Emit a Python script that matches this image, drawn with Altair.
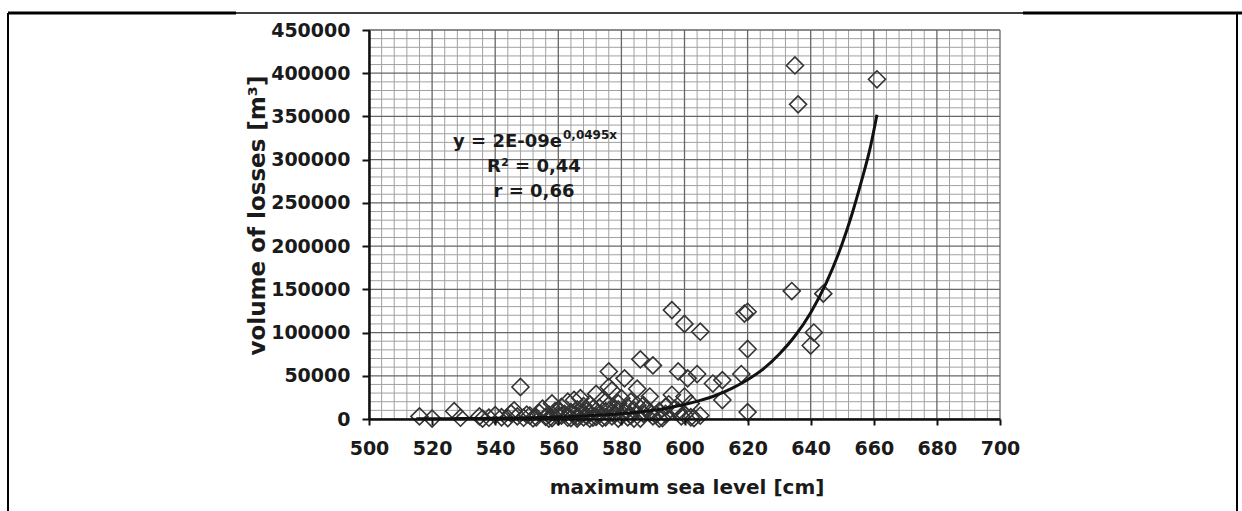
import altair as alt
import pandas as pd

# ---- data ----
x_level = [516, 520, 527, 529, 535, 536, 538, 540, 542, 544, 545, 546, 547, 548, 549, 550,
           551, 552, 553, 554, 555, 556, 557, 557, 558, 558, 559, 560, 560, 561, 561, 562,
           563, 563, 564, 564, 565, 565, 566, 566, 566, 567, 567, 568, 568, 568, 569, 569,
           570, 570, 570, 571, 571, 572, 572, 573, 573, 574, 574, 575, 575, 576, 576, 576,
           577, 577, 577, 578, 578, 579, 579, 579, 580, 580, 581, 581, 582, 582, 583, 583,
           584, 584, 585, 585, 586, 586, 587, 587, 588, 589, 589, 590, 590, 591, 592, 592,
           593, 594, 594, 595, 596, 596, 597, 598, 598, 599, 600, 600, 600, 601, 602, 602,
           603, 604, 605, 605, 609, 612, 612, 618, 619, 620, 620, 620, 634, 635, 636, 640,
           641, 644, 661]
y_loss = [3000, 500, 9000, 1500, 3000, 500, 1500, 4500, 2000, 1000, 6500, 10000, 3000, 37000, 1500, 5000,
          4000, 800, 2000, 7000, 12000, 2500, 5000, 500, 18000, 1000, 9000, 3000, 10000, 14000, 4000, 6000,
          20000, 1500, 8000, 1000, 4000, 22000, 500, 11000, 3000, 6000, 24000, 2000, 15000, 7000, 9000, 3500,
          500, 7000, 17000, 12000, 1500, 29000, 2500, 5000, 13000, 22000, 1000, 9000, 2000, 16000, 37000, 55000,
          3000, 33000, 8000, 6000, 12000, 18000, 500, 11000, 24000, 3500, 47000, 8000, 14000, 2000, 4000, 20000,
          10000, 500, 35000, 16000, 69000, 500, 6000, 16000, 12000, 26000, 7000, 62000, 3000, 5000, 9000, 500,
          1000, 14000, 6000, 17000, 28000, 126000, 12000, 55000, 9000, 3000, 110000, 26000, 5000, 47000, 18000, 2000,
          1000, 52000, 101000, 4000, 41000, 45000, 22000, 52000, 122000, 124000, 81000, 8000, 148000, 409000, 364000, 85000,
          100000, 145000, 393000]

# trend line as drawn in the picture
trend_x = [515, 525, 535, 545, 555, 565, 575, 585, 590, 595, 600, 605, 610, 615, 620,
           625, 630, 635, 640, 645, 650, 653, 656, 659, 661]
trend_y = [200, 400, 700, 1100, 1800, 3000, 4800, 7800, 10000, 13000, 16700, 21500, 27500, 35500, 45500,
           58000, 75000, 96000, 123000, 158000, 203000, 236000, 274000, 316000, 352000]

x_ticks = list(range(500, 701, 20))
y_ticks = list(range(0, 450001, 50000))
x_minor = [v for v in range(500, 701, 4) if v % 20 != 0]
y_minor = [v for v in range(0, 450001, 10000) if v % 50000 != 0]

eq_main = "y = 2E-09e"
eq_exp = "0,0495x"
eq_r2 = "R² = 0,44"
eq_r = "r = 0,66"

x_title = "maximum sea level [cm]"
y_title = "volume of losses [m³]"

FONT = "DejaVu Sans"
W, H = 631, 389

pts = pd.DataFrame({"x": x_level, "y": y_loss})
trend = pd.DataFrame({"x": trend_x, "y": trend_y})

xscale = alt.Scale(domain=[500, 700], zero=False, nice=False)
yscale = alt.Scale(domain=[0, 450000], nice=False)

x_axis = alt.Axis(values=x_ticks, title=x_title, grid=False, format="d",
                  domainColor="#111", domainWidth=2.5, tickColor="#111", tickWidth=2, tickSize=6,
                  labelFont=FONT, labelFontWeight="bold", labelFontSize=19, labelColor="#1a1a1a",
                  labelPadding=14, labelFlush=False, labelOverlap=False,
                  titleFont=FONT, titleFontWeight="bold", titleFontSize=20, titleColor="#1a1a1a",
                  titleX=W / 2 + 2, titleY=68, titleBaseline="middle", titleAlign="center", zindex=2)
y_axis = alt.Axis(values=y_ticks, title=y_title, grid=False, format="d",
                  domainColor="#111", domainWidth=2.5, tickColor="#111", tickWidth=2, tickSize=7,
                  labelFont=FONT, labelFontWeight="bold", labelFontSize=19, labelColor="#1a1a1a",
                  labelPadding=12, labelFlush=False, labelOverlap=False,
                  titleFont=FONT, titleFontWeight="bold", titleFontSize=23, titleColor="#1a1a1a",
                  titleX=-112, titleY=185, titleAngle=270, titleBaseline="middle", titleAlign="center",
                  zindex=2)

vminor = alt.Chart(pd.DataFrame({"x": x_minor})).mark_rule(color="#a0a0a0", strokeWidth=1).encode(
    x=alt.X("x:Q", scale=xscale, axis=x_axis))
hminor = alt.Chart(pd.DataFrame({"y": y_minor})).mark_rule(color="#a0a0a0", strokeWidth=1).encode(
    y=alt.Y("y:Q", scale=yscale, axis=y_axis))
vmajor = alt.Chart(pd.DataFrame({"x": x_ticks})).mark_rule(color="#666666", strokeWidth=1.3).encode(
    x=alt.X("x:Q", scale=xscale, axis=x_axis))
hmajor = alt.Chart(pd.DataFrame({"y": y_ticks})).mark_rule(color="#666666", strokeWidth=1.3).encode(
    y=alt.Y("y:Q", scale=yscale, axis=y_axis))

points = alt.Chart(pts).mark_point(shape="diamond", filled=False, size=290,
                                   stroke="#333333", strokeWidth=1.6, opacity=1).encode(
    x=alt.X("x:Q", scale=xscale, axis=x_axis),
    y=alt.Y("y:Q", scale=yscale, axis=y_axis))

curve = alt.Chart(trend).mark_line(color="#111111", strokeWidth=3, interpolate="monotone").encode(
    x=alt.X("x:Q", scale=xscale, axis=x_axis),
    y=alt.Y("y:Q", scale=yscale, axis=y_axis))

def label(txt, x, y, size, align):
    return alt.Chart(pd.DataFrame({"t": [txt]})).mark_text(
        font=FONT, fontWeight="bold", fontSize=size, color="#1a1a1a",
        align=align, baseline="middle").encode(
        x=alt.value(x), y=alt.value(y), text="t:N")

t1 = label(eq_main, 193, 112, 18, "right")
t1b = label(eq_exp, 194, 105, 12, "left")
t2 = label(eq_r2, 165, 137, 18, "center")
t3 = label(eq_r, 165, 162, 18, "center")

# outer frame of the figure
frame_left = alt.Chart().mark_rule(color="#000", strokeWidth=2).encode(
    x=alt.value(-361), y=alt.value(-17), y2=alt.value(H + 92))
frame_right = alt.Chart().mark_rule(color="#000", strokeWidth=2).encode(
    x=alt.value(868), y=alt.value(-17), y2=alt.value(H + 92))
frame_top = alt.Chart().mark_rule(color="#000", strokeWidth=1.5).encode(
    x=alt.value(-361), x2=alt.value(873), y=alt.value(-17))
frame_top_l = alt.Chart().mark_rule(color="#000", strokeWidth=3).encode(
    x=alt.value(-361), x2=alt.value(-133), y=alt.value(-17))
frame_top_r = alt.Chart().mark_rule(color="#000", strokeWidth=3).encode(
    x=alt.value(654), x2=alt.value(873), y=alt.value(-17))

chart = alt.layer(vminor, hminor, vmajor, hmajor, points, curve, t1, t1b, t2, t3,
                  frame_left, frame_right, frame_top, frame_top_l, frame_top_r).properties(
    width=W, height=H,
    autosize=alt.AutoSizeParams(type="none"),
    padding={"left": 369, "top": 30, "right": 1242 - 369 - W, "bottom": 511 - 30 - H},
    background="white",
).configure_view(stroke=None)

chart.save("out.html", embed_options={"renderer": "svg", "actions": False})
